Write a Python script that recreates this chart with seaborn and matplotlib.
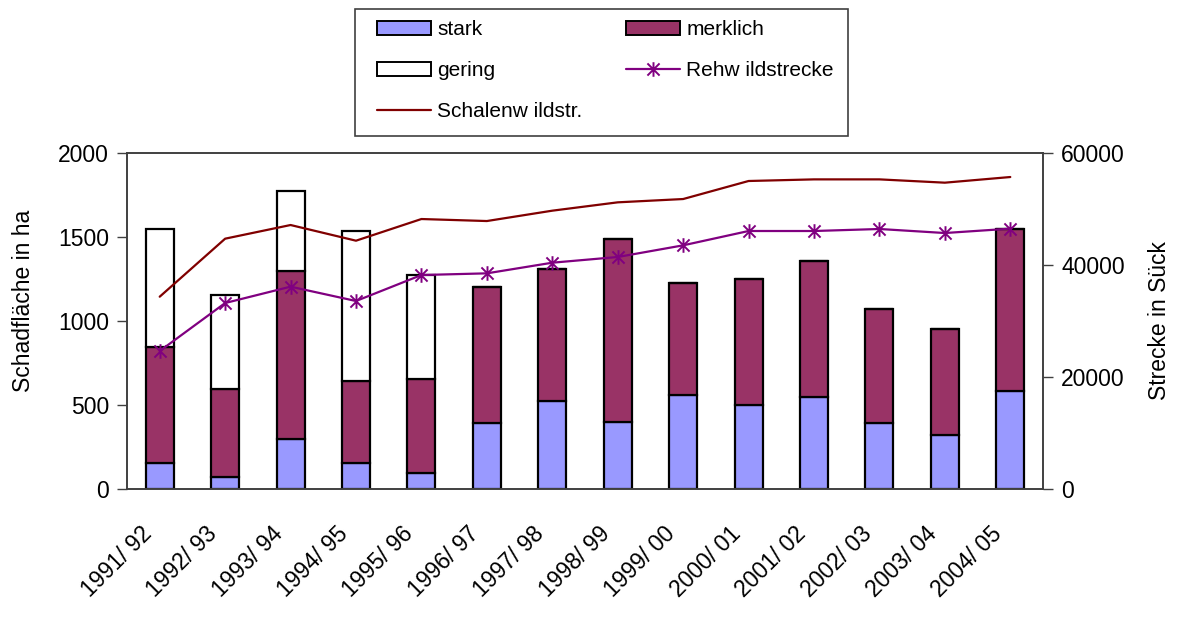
import numpy as np
import matplotlib
matplotlib.use("Agg")
import matplotlib.pyplot as plt
from matplotlib.path import Path
from matplotlib.patches import Patch, Rectangle
from matplotlib.lines import Line2D
import seaborn as sns

seasons = ["1991/ 92", "1992/ 93", "1993/ 94", "1994/ 95", "1995/ 96", "1996/ 97", "1997/ 98",
           "1998/ 99", "1999/ 00", "2000/ 01", "2001/ 02", "2002/ 03", "2003/ 04", "2004/ 05"]
stark = [155, 70, 298, 155, 95, 393, 524, 401, 557, 498, 548, 391, 321, 583]
merklich = [692, 527, 1000, 490, 560, 811, 785, 1087, 671, 754, 811, 680, 631, 965]
gering = [701, 558, 478, 893, 619, 0, 0, 0, 0, 0, 0, 0, 0, 0]
rehwild = [24640, 33210, 36130, 33570, 38210, 38510, 40410,
           41430, 43510, 46070, 46070, 46430, 45710, 46490]
schalenwild = [34340, 44700, 47140, 44340, 48210, 47850, 49700,
               51190, 51780, 55000, 55290, 55290, 54700, 55710]

sns.set_style("white")
plt.rcParams["font.family"] = ["Liberation Sans", "DejaVu Sans"]
plt.rcParams["text.color"] = "black"
plt.rcParams["axes.labelcolor"] = "black"
plt.rcParams["xtick.color"] = "black"
plt.rcParams["ytick.color"] = "black"

c_stark = "#9999FF"
c_merk = "#993366"
c_reh = "#800080"
c_schal = "#800000"
c_axis = "#404040"
fs = 16.5

W, H = 1179, 621
fig = plt.figure(figsize=(W / 100, H / 100), dpi=100)
ax = fig.add_axes([127 / W, 1 - 489 / H, (1043 - 127) / W, (489 - 153) / H])

n = len(seasons)
xs = np.arange(n)
b1 = np.array(stark)
b2 = b1 + np.array(merklich)

# stacked bars
bar_kw = dict(width=0.43, edgecolor="black", linewidth=1.6, saturation=1, ax=ax)
sns.barplot(x=xs, y=stark, color=c_stark, **bar_kw)
sns.barplot(x=xs, y=merklich, bottom=b1, color=c_merk, **bar_kw)
sns.barplot(x=xs, y=gering, bottom=b2, color="white", **bar_kw)

ax.set_xlim(-0.5, n - 0.5)
ax.set_ylim(0, 2000)
ax.set_yticks([0, 500, 1000, 1500, 2000])
# labels sit a bit left of the bar centre, tick marks between categories
ax.set_xticks(xs - 0.3)
ax.set_xticks(np.arange(n + 1) - 0.5, minor=True)
ax.set_xticklabels(seasons, rotation=45, ha="right", rotation_mode="anchor")
ax.tick_params(axis="x", which="major", length=0, pad=24, labelsize=fs)
ax.tick_params(axis="x", which="minor", length=7, width=1, color=c_axis, direction="out")
ax.tick_params(axis="y", length=7, width=1, color=c_axis, direction="out", labelsize=fs, pad=6)
ax.set_xlabel("")
ax.set_ylabel("Schadfläche in ha", fontsize=fs)
ax.yaxis.set_label_coords(-0.100, 0.56)
for s in ax.spines.values():
    s.set_color(c_axis)
    s.set_linewidth(1.2)

# lines on the right axis
ax2 = ax.twinx()
star = Path([(-1, -1), (1, 1), (-1, 1), (1, -1), (0, -1.2), (0, 1.2)],
            [Path.MOVETO, Path.LINETO, Path.MOVETO, Path.LINETO, Path.MOVETO, Path.LINETO])
sns.lineplot(x=xs, y=schalenwild, color=c_schal, linewidth=1.6, ax=ax2)
sns.lineplot(x=xs, y=rehwild, color=c_reh, linewidth=1.6, marker=star, markersize=10.5,
             markeredgecolor=c_reh, markeredgewidth=1.4, markerfacecolor="none", ax=ax2)
ax2.set_ylim(0, 60000)
ax2.set_yticks([0, 20000, 40000, 60000])
ax2.tick_params(axis="y", length=7, width=1, color=c_axis, direction="out", labelsize=fs, pad=6)
ax2.set_ylabel("Strecke in Sück", fontsize=fs, labelpad=17)
for s in ax2.spines.values():
    s.set_color(c_axis)
    s.set_linewidth(1.2)

# legend
handles = [
    Patch(facecolor=c_stark, edgecolor="black", linewidth=1.4),
    Patch(facecolor="white", edgecolor="black", linewidth=1.4),
    Line2D([], [], color=c_schal, linewidth=1.6),
    Patch(facecolor=c_merk, edgecolor="black", linewidth=1.4),
    Line2D([], [], color=c_reh, linewidth=1.6, marker=star, markersize=10.5,
           markeredgecolor=c_reh, markeredgewidth=1.4, markerfacecolor="none"),
]
labels = ["stark", "gering", "Schalenw ildstr.", "merklich", "Rehw ildstrecke"]
fig.legend(handles, labels, ncol=2, loc="upper left",
           bbox_to_anchor=(377 / W, 1 - 125 / H, (834 - 377) / W, 105 / H),
           mode="expand", fontsize=15, handlelength=2.6, handleheight=0.65,
           labelspacing=1.06, handletextpad=0.3, borderaxespad=0, borderpad=0,
           frameon=False)
fig.add_artist(Rectangle((355 / W, 1 - 136 / H), (848 - 355) / W, (136 - 9) / H,
                         transform=fig.transFigure, fill=False,
                         edgecolor=c_axis, linewidth=1.2))

fig.savefig("out.png", dpi=100)
